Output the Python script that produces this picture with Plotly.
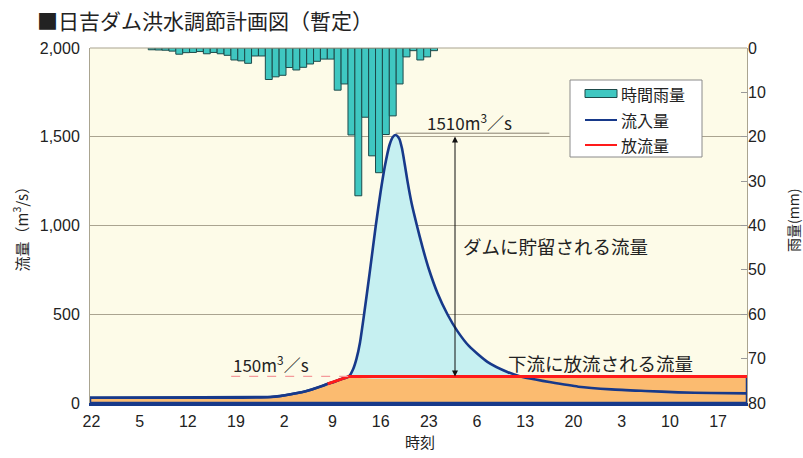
import plotly.graph_objects as go

# ---------------- data ----------------
title_text = "■日吉ダム洪水調節計画図（暫定）"

# x axis: hours counted from 22:00 of the first day
x_tick_hours = [0, 7, 14, 21, 28, 35, 42, 49, 56, 63, 70, 77, 84, 91]
x_tick_labels = ["22", "5", "12", "19", "2", "9", "16", "23", "6", "13", "20", "3", "10", "17"]

flow_ticks = [0, 500, 1000, 1500, 2000]
rain_ticks = [0, 10, 20, 30, 40, 50, 60, 70, 80]

# hourly rainfall (mm)
rain_first_hour = 8.76
rain_mm = [0.4, 0.45, 0.5, 0.7, 1.4, 1.05, 1.0, 0.8, 1.3, 1.0,
           1.3, 1.65, 2.7, 2.9, 3.45, 1.8, 1.8, 7.1, 6.5, 6.15,
           4.4, 4.95, 4.35, 3.6, 3.0, 2.5, 2.5, 9.5, 8.1, 19.6,
           33.3, 15.6, 24.3, 28.1, 19.5, 15.3, 8.1, 2.0, 0.6, 2.7,
           2.0, 0.6]
rain_hours = [rain_first_hour + i for i in range(len(rain_mm))]

# inflow hydrograph (m3/s)
inflow_hours = [-0.2, 10, 20, 24, 26, 27.5, 29, 30.5, 32, 33.5, 34.3, 35, 36.2, 37.4,
                38.0, 38.5, 39.0, 39.6, 40.4, 41.3, 42.0, 42.6, 43.3, 43.8, 44.2,
                44.7, 45.1, 45.5, 45.9, 46.5, 47.25, 48.1, 49.0, 50.25, 51.7, 53.15,
                54.85, 57.5, 60.4, 62.3, 64.5, 66.5, 70.7, 75.5, 80.4, 85.2, 90, 95.2]
inflow_vals = [30, 30, 30, 31, 34, 40, 49, 60, 76, 95, 108, 116, 134, 150,
               190, 250, 340, 500, 730, 1000, 1190, 1331, 1455, 1500, 1510,
               1490, 1435, 1345, 1250, 1125, 1003, 875, 755, 620, 500, 405,
               320, 232, 175, 150, 132, 118, 92, 77, 68, 60, 56, 54]

# release (outflow) to downstream (m3/s)
release_hours = [34.3, 35.3, 36.4, 37.4, 95.2]
release_vals = [108, 120, 136, 150, 150]
release_cap = 150
peak_flow = 1510
peak_hour = 44.2
arrow_hour = 52.8

# ---------------- styling ----------------
NAVY = "#17398a"
RED = "#ff1a1a"
TEAL = "#3fc7c1"
TEAL_EDGE = "#1d4a4a"
CYAN = "#c6f0f1"
ORANGE = "#fbbb70"
CREAM = "#fdfbe8"
GRID = "#aaa490"
JP = "Noto Sans CJK JP"
LAT = "Liberation Sans"

W, H = 803, 458
ML, MR, MT, MB = 90, 56, 48, 55
PW, PH = W - ML - MR, H - MT - MB


def px_x(p):
    return (p - ML) / PW


def px_y(p):
    return (H - MB - p) / PH


fig = go.Figure()

# orange area: under inflow until release starts, then under release line
n_pre = sum(1 for h in inflow_hours if h < release_hours[0])
orange_x = inflow_hours[:n_pre] + release_hours + [release_hours[-1], inflow_hours[0], inflow_hours[0]]
orange_y = inflow_vals[:n_pre] + release_vals + [0, 0, inflow_vals[0]]
fig.add_trace(go.Scatter(x=orange_x, y=orange_y, mode="lines", fill="toself",
                         fillcolor=ORANGE, line=dict(color=NAVY, width=2.5),
                         hoverinfo="skip", showlegend=False))

# cyan area: stored volume (inflow above release cap)
stored = [(h, v) for h, v in zip(inflow_hours, inflow_vals) if v >= release_cap and 37 <= h <= 63]
cyan_x = [h for h, _ in stored] + [stored[-1][0], stored[0][0]]
cyan_y = [v for _, v in stored] + [release_cap, release_cap]
fig.add_trace(go.Scatter(x=cyan_x, y=cyan_y, mode="lines", fill="toself",
                         fillcolor=CYAN, line=dict(width=0, color=CYAN, shape="spline", smoothing=0.6),
                         hoverinfo="skip", showlegend=False))

# inflow line
fig.add_trace(go.Scatter(x=inflow_hours, y=inflow_vals, mode="lines", name="流入量",
                         line=dict(color=NAVY, width=2.6, shape="spline", smoothing=0.6),
                         showlegend=False))

# release line
fig.add_trace(go.Scatter(x=release_hours, y=release_vals, mode="lines", name="放流量",
                         line=dict(color=RED, width=3), showlegend=False))

# rainfall bars on the reversed right axis
fig.add_trace(go.Bar(x=rain_hours, y=rain_mm, yaxis="y2", width=1.0, name="時間雨量",
                     marker=dict(color=TEAL, line=dict(color=TEAL_EDGE, width=1)),
                     showlegend=False))

shapes = [
    # top frame line
    dict(type="line", xref="paper", yref="paper", x0=0, x1=1, y0=1, y1=1,
         line=dict(color=GRID, width=1.2)),
    # peak leader line
    dict(type="line", xref="x", yref="y", x0=peak_hour, x1=66.5, y0=peak_flow + 10, y1=peak_flow + 10,
         line=dict(color="#888070", width=1)),
    # dashed 150 line
    dict(type="line", xref="x", yref="y", x0=20.3, x1=37.4, y0=release_cap, y1=release_cap,
         line=dict(color="#f49a9a", width=1.3, dash="dash")),
    # legend box
    dict(type="rect", xref="paper", yref="paper", x0=px_x(570), x1=px_x(702),
         y0=px_y(157), y1=px_y(80), fillcolor="white", line=dict(color="#8a8a8a", width=1)),
    dict(type="rect", xref="paper", yref="paper", x0=px_x(585), x1=px_x(617),
         y0=px_y(97.5), y1=px_y(89.5), fillcolor=TEAL, line=dict(color=TEAL_EDGE, width=1)),
    dict(type="line", xref="paper", yref="paper", x0=px_x(585), x1=px_x(617),
         y0=px_y(120), y1=px_y(120), line=dict(color=NAVY, width=2)),
    dict(type="line", xref="paper", yref="paper", x0=px_x(585), x1=px_x(617),
         y0=px_y(145), y1=px_y(145), line=dict(color=RED, width=2)),
]


def note(text, x, y, size, xref="paper", yref="paper", xanchor="center", angle=0):
    return dict(text=text, xref=xref, yref=yref, x=x, y=y, xanchor=xanchor, yanchor="middle",
                textangle=angle, showarrow=False, font=dict(family=JP, size=size, color="#222"))


annotations = [
    # axis titles
    note("流量（m<sup>3</sup>/s）", px_x(20.5), px_y(225), 15, angle=-90),
    note("雨量(mm)", px_x(793), px_y(221), 14, angle=-90),
    note("時刻", px_x(420), px_y(441), 15),
    # value labels
    note("1510m<sup>3</sup>／s", 54.85, 1585, 17, xref="x", yref="y"),
    note("150m<sup>3</sup>／s", 26.1, 220, 17, xref="x", yref="y"),
    note("ダムに貯留される流量", 53.7, 884, 18.5, xref="x", yref="y", xanchor="left"),
    note("下流に放流される流量", 60.2, 225, 18.5, xref="x", yref="y", xanchor="left"),
    # legend texts
    note("時間雨量", px_x(619), px_y(93.5), 16, xanchor="left"),
    note("流入量", px_x(619), px_y(120), 16, xanchor="left"),
    note("放流量", px_x(619), px_y(145), 16, xanchor="left"),
    # double arrow
    dict(x=arrow_hour, y=release_cap, ax=arrow_hour, ay=peak_flow, xref="x", yref="y",
         axref="x", ayref="y", text="", showarrow=True, arrowhead=2, startarrowhead=2,
         arrowside="end+start", arrowsize=1.2, startarrowsize=1.2, arrowwidth=1, arrowcolor="#111"),
]

fig.update_layout(
    width=W, height=H,
    margin=dict(l=ML, r=MR, t=MT, b=MB, pad=0),
    paper_bgcolor="white", plot_bgcolor=CREAM,
    title=dict(text=title_text, x=37 / W, xanchor="left", y=1 - 21.5 / H, yanchor="middle",
               font=dict(family=JP, size=21, color="#222")),
    showlegend=False,
    bargap=0,
    xaxis=dict(range=[-0.2, 95.2], tickvals=x_tick_hours, ticktext=x_tick_labels,
               showgrid=False, zeroline=False, showline=True, linecolor=NAVY, linewidth=2.5,
               ticks="outside", ticklen=2, tickcolor="rgba(0,0,0,0)",
               tickfont=dict(family=LAT, size=16, color="#222")),
    yaxis=dict(range=[0, 2000], tickvals=flow_ticks, tickformat=",d",
               showgrid=True, gridcolor=GRID, gridwidth=1, zeroline=False,
               showline=True, linecolor=GRID, linewidth=1, mirror=True,
               ticks="outside", ticklen=6, tickcolor="rgba(0,0,0,0)",
               tickfont=dict(family=LAT, size=16, color="#222")),
    yaxis2=dict(range=[80, 0], tickvals=rain_ticks, overlaying="y", side="right",
                showgrid=False, zeroline=False, showline=False,
                ticks="inside", ticklen=6, tickcolor="#999",
                tickfont=dict(family=LAT, size=16, color="#222")),
    shapes=shapes,
    annotations=annotations,
)

fig.write_html("out.html", config={"displayModeBar": False, "staticPlot": True})

# remove the browser's default page margin so the figure sits at the window origin
with open("out.html", "r", encoding="utf-8") as f:
    html = f.read()
html = html.replace("<head>", "<head><style>html,body{margin:0;padding:0;overflow:hidden;}</style>", 1)
with open("out.html", "w", encoding="utf-8") as f:
    f.write(html)
